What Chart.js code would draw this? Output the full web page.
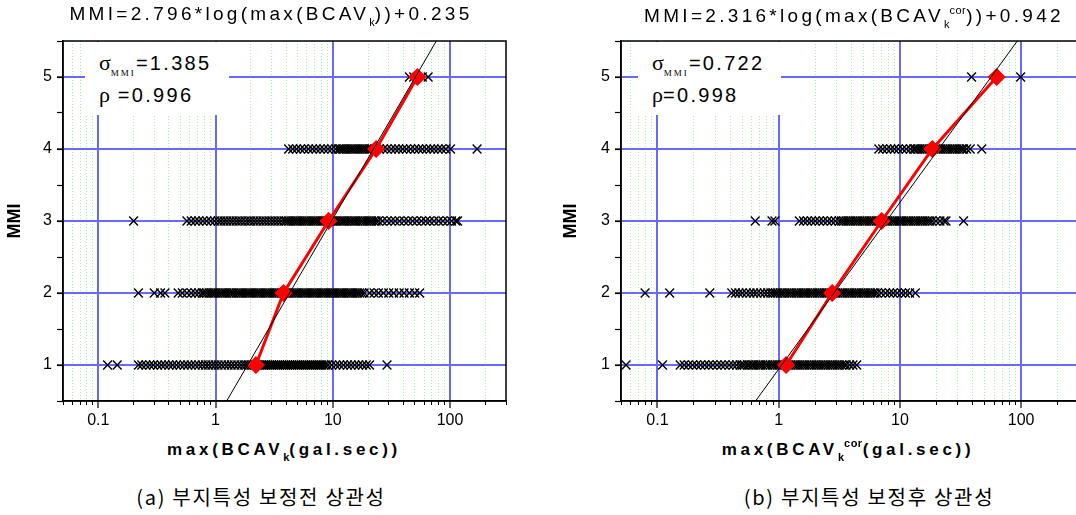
<!DOCTYPE html>
<html>
<head>
<meta charset="utf-8">
<script src="https://cdn.jsdelivr.net/npm/chart.js@4"></script>
<style>
  html, body { margin: 0; padding: 0; background: #fff; overflow: hidden; }
  #wrap { position: relative; width: 1076px; height: 515px; overflow: hidden; background: #fff;
          font-family: "Liberation Sans", Arial, sans-serif; color: #000; }
  canvas { position: absolute; top: 0; }
  .lbl { position: absolute; width: 600px; text-align: center; white-space: nowrap; }
  .title { font-size: 19px; letter-spacing: 3.3px; }
  .xtitle { font-size: 17px; font-weight: bold; letter-spacing: 3.7px; }
  .cap { font-family: "Noto Sans CJK KR", sans-serif; font-size: 20px; letter-spacing: 1.7px; }
  .sb { font-size: 11px; position: relative; top: 6px; letter-spacing: 0; }
  .sp { font-size: 11px; position: relative; top: -8px; letter-spacing: 0.5px; }
  .stat { position: absolute; background: #fff; height: 73px; top: 42px; }
  .stat div { position: absolute; left: 14px; font-size: 20px; letter-spacing: 2.3px; white-space: nowrap; }
  .gr { font-family: "Liberation Serif", serif; font-size: 22px; letter-spacing: 0; }
  .mmi { font-family: "Liberation Serif", serif; font-size: 9px; letter-spacing: 2px; position: relative; top: 6px; }
</style>
</head>
<body>
<div id="wrap">
  <canvas id="pre" width="520" height="440" style="left:0px"></canvas>
  <canvas id="cor" width="537" height="440" style="left:556px"></canvas>

  <div class="lbl title" style="left:-29px;top:3px">MMI=2.796*log(max(BCAV<span class="sb">k</span>))+0.235</div>
  <div class="lbl title" style="left:554px;top:5px">MMI=2.316*log(max(BCAV<span class="sb">k</span><span class="sp">cor</span>))+0.942</div>

  <div class="stat" style="left:85px;width:144px">
    <div style="top:8px"><span class="gr">σ</span><span class="mmi">MMI</span>=1.385</div>
    <div style="top:40px"><span class="gr">ρ</span> =0.996</div>
  </div>
  <div class="stat" style="left:638px;width:143px">
    <div style="top:8px"><span class="gr">σ</span><span class="mmi">MMI</span>=0.722</div>
    <div style="top:40px"><span class="gr">ρ</span>=0.998</div>
  </div>

  <div class="lbl xtitle" style="left:-16px;top:440px">max(BCAV<span class="sb">k</span>(gal.sec))</div>
  <div class="lbl xtitle" style="left:548px;top:440px">max(BCAV<span class="sb">k</span><span class="sp">cor</span>(gal.sec))</div>

  <div class="lbl cap" style="left:-39px;top:482px">(a) 부지특성 보정전 상관성</div>
  <div class="lbl cap" style="left:569px;top:482px">(b) 부지특성 보정후 상관성</div>
</div>

<script>
// MMI levels (y of each row, also the labelled y ticks)
const mmiLevels = [1, 2, 3, 4, 5];

// axis ranges and labelled decades
const xMin = 0.05;
const xMax = 300;
const decadeTicks = [0.1, 1, 10, 100];
const yMin = 0.5;
const yMax = 5.5;

// (a) before site correction: max(BCAV_k) per MMI level
const preMMI1 = [0.12, 0.145,
  0.22, 0.235, 0.255, 0.275, 0.295, 0.32, 0.345, 0.37, 0.4, 0.43, 0.465, 0.5, 0.54, 0.58, 0.62, 0.67, 0.72,
  0.77, 0.82, 0.87, 0.93, 0.99, 1.05, 1.12, 1.2, 1.28, 1.36, 1.45, 1.55, 1.65, 1.75,
  1.84, 1.92, 2.0, 2.08, 2.17, 2.26, 2.35, 2.45, 2.55, 2.65, 2.76, 2.87, 2.99, 3.11, 3.24, 3.37, 3.5,
  3.65, 3.8, 3.95, 4.1, 4.28, 4.45, 4.63, 4.82, 5.0, 5.2, 5.42, 5.64, 5.87, 6.1, 6.35, 6.6, 6.87,
  7.15, 7.45, 7.75, 8.05, 8.4, 8.75, 9.1,
  9.8, 10.6, 11.4, 12.3, 13.3, 14.3, 15.4, 16.6, 17.9, 19.3, 20.6, 29];
const preMMI2 = [0.22, 0.3, 0.34, 0.37, 0.48, 0.52, 0.57, 0.62, 0.67, 0.72,
  0.77, 0.8, 0.84, 0.88, 0.92, 0.96, 1.0, 1.05, 1.1, 1.15, 1.2, 1.25, 1.31, 1.37, 1.43, 1.5, 1.57,
  1.64, 1.71, 1.79, 1.87, 1.95, 2.04, 2.13, 2.23, 2.33, 2.43, 2.54, 2.66, 2.78, 2.9, 3.03, 3.17,
  3.31, 3.46, 3.62, 3.78, 3.95, 4.13, 4.31, 4.5, 4.71, 4.92, 5.14, 5.37, 5.61, 5.86, 6.13, 6.4,
  6.69, 6.99, 7.3, 7.63, 7.98, 8.33, 8.71, 9.1, 9.51, 9.94, 10.4, 10.9, 11.4, 11.9, 12.4, 13.0,
  13.6, 14.2, 14.8, 15.5, 16.2, 16.9, 17.7, 18.5,
  20.6, 22.5, 24.5, 27, 30, 33, 36.8, 40.5, 45, 50, 55];
const preMMI3 = [0.2,
  0.57, 0.62, 0.67, 0.72, 0.78, 0.84, 0.91, 0.98, 1.05,
  1.11, 1.18, 1.25, 1.33, 1.41, 1.5, 1.59, 1.68, 1.79, 1.9, 2.0, 2.13, 2.26, 2.4, 2.55, 2.7, 2.87,
  3.04, 3.22, 3.42, 3.63, 3.85,
  4.02, 4.2, 4.39, 4.59, 4.8, 5.01, 5.24, 5.47, 5.72, 5.98, 6.25, 6.53, 6.82, 7.13, 7.45, 7.78,
  8.13, 8.5, 8.88, 9.28, 9.7, 10.1, 10.6, 11.1, 11.6, 12.1, 12.6, 13.2, 13.8, 14.4, 15.1, 15.7,
  16.4, 17.2, 18.0, 18.8, 19.6, 20.5, 21.4, 22.4, 23.4, 24.5,
  26.5, 29, 31.5, 34, 37, 40.5, 44, 48, 52, 57, 62, 67, 73, 80, 87, 95, 103, 112, 116];
const preMMI4 = [4.2, 4.55, 4.9, 5.3, 5.7, 6.2, 6.7, 7.2, 7.8, 8.4, 9.1, 9.8, 10.6, 11.2,
  11.6, 12.1, 12.6, 13.2, 13.8, 14.4, 15.0, 15.7, 16.4, 17.1, 17.9, 18.7, 19.5, 20.4, 21.4,
  23, 25, 27, 29, 31.5, 34, 36.5, 39.5, 42.5, 46, 50, 54, 58, 63, 68, 73, 79, 85, 92, 101, 170];
const preMMI5 = [45, 49, 58, 65];
const preMeanX = [2.21, 3.8, 9.2, 23.4, 52.6];
const preFitX = [1.244, 76.4];

// (b) after site correction: max(BCAV_k^cor) per MMI level
const corMMI1 = [0.055, 0.11,
  0.154, 0.166, 0.18, 0.195, 0.21, 0.227, 0.245, 0.265, 0.286, 0.31, 0.335, 0.36, 0.39, 0.42, 0.45,
  0.48, 0.5, 0.52, 0.55, 0.57, 0.6, 0.62, 0.65, 0.68, 0.71, 0.74, 0.78, 0.81, 0.85, 0.89, 0.93,
  0.97, 1.01, 1.06, 1.1, 1.15, 1.21, 1.26, 1.32, 1.38, 1.44, 1.5, 1.57, 1.64, 1.71, 1.79, 1.87,
  1.96, 2.04, 2.14, 2.23, 2.33, 2.44, 2.55, 2.66, 2.78, 2.91, 3.04, 3.17, 3.32, 3.47, 3.6,
  3.85, 4.1, 4.4];
const corMMI2 = [0.079, 0.126, 0.27,
  0.41, 0.44, 0.47, 0.5, 0.54, 0.58, 0.62, 0.66, 0.71, 0.76, 0.81, 0.86,
  0.9, 0.94, 0.98, 1.03, 1.07, 1.12, 1.17, 1.22, 1.28, 1.34, 1.4, 1.46, 1.53, 1.6, 1.67, 1.74,
  1.82, 1.9, 1.99, 2.08, 2.17, 2.27, 2.37, 2.48, 2.59, 2.7, 2.82, 2.95, 3.08, 3.22, 3.37, 3.52,
  3.68, 3.84, 4.01, 4.19, 4.38, 4.58, 4.79, 5.0, 5.23, 5.46, 5.71, 5.96, 6.23, 6.5,
  7.0, 7.6, 8.2, 8.8, 9.5, 10.3, 11.1, 12, 13.4];
const corMMI3 = [0.64, 0.88, 0.93,
  1.48, 1.6, 1.72, 1.86, 2.0, 2.16, 2.33, 2.52, 2.72, 2.93,
  3.15, 3.29, 3.44, 3.59, 3.75, 3.92, 4.1, 4.28, 4.48, 4.68, 4.89, 5.11, 5.34, 5.58, 5.83, 6.09,
  6.37, 6.65, 6.95, 7.27, 7.59, 7.94, 8.29, 8.67, 9.06, 9.46, 9.89, 10.3, 10.8, 11.3, 11.8, 12.3,
  12.9, 13.5, 14.1, 14.7, 15.4, 16.1, 16.8, 17.6, 18.4,
  19.8, 21.4, 23.1, 24, 33.5];
const corMMI4 = [6.7, 7.2, 7.8, 8.4, 9.0, 9.7, 10.5, 11.3, 12.2, 13.0,
  13.4, 14.0, 14.6, 15.3, 16.0, 16.7, 17.4, 18.2, 19.0, 19.9, 20.8, 21.7, 22.7, 23.7, 24.8, 25.9,
  27.1, 28.3, 29.6, 30.9, 32.3, 33.5,
  35.5, 38, 47.3];
const corMMI5 = [39, 99];
const corMeanX = [1.15, 2.76, 7.07, 18.5, 62.8];
const corFitX = [0.644, 92.9];

// fit lines run across the full y range
const fitY = [0.5, 5.5];

const BLUE = "rgb(105,105,255)";
const GREEN = "rgb(165,238,165)";

Chart.defaults.font.family = "'Liberation Sans', Arial, sans-serif";
Chart.defaults.color = "#000";

function isMinor(v) {
    const s = v / Math.pow(10, Math.floor(Math.log10(v) + 1e-9));
    const r = Math.round(s);
    return Math.abs(s - r) < 1e-6 && r >= 2 && r <= 9;
}

const framePlugin = {
    id: "frame",
    afterDraw(chart) {
        const { ctx, chartArea: a } = chart;
        ctx.save();
        ctx.strokeStyle = "#000";
        ctx.lineWidth = 1.5;
        ctx.strokeRect(a.left, a.top, a.right - a.left, a.bottom - a.top);
        ctx.restore();
    }
};

function rowData(xs, level) {
    return xs.map(x => ({ x: x, y: level }));
}

function makeChart(id, rows, meanX, fitX, yWidth) {
    const scatterSets = rows.map((xs, i) => ({
        data: rowData(xs, mmiLevels[i]),
        showLine: false,
        pointStyle: "crossRot",
        pointRadius: 6.2,
        borderColor: "#000",
        backgroundColor: "#000",
        borderWidth: 1.4,
        order: 3
    }));

    return new Chart(document.getElementById(id), {
        type: "scatter",
        data: {
            datasets: [
                {
                    data: fitX.map((x, i) => ({ x: x, y: fitY[i] })),
                    showLine: true,
                    borderColor: "#000",
                    borderWidth: 1,
                    pointRadius: 0,
                    order: 0
                },
                {
                    data: meanX.map((x, i) => ({ x: x, y: mmiLevels[i] })),
                    showLine: true,
                    borderColor: "#ff0000",
                    borderWidth: 3,
                    pointStyle: "rectRot",
                    pointRadius: 7,
                    pointBackgroundColor: "#ff0000",
                    pointBorderColor: "#ff0000",
                    order: 1
                },
                ...scatterSets
            ]
        },
        options: {
            responsive: false,
            animation: false,
            devicePixelRatio: 1,
            events: [],
            layout: { padding: { top: 41, right: 14, left: 0, bottom: 0 } },
            plugins: { legend: { display: false }, tooltip: { enabled: false } },
            scales: {
                // minor decade lines (green dotted) and short minor ticks
                x2: {
                    type: "logarithmic",
                    position: "bottom",
                    weight: 0,
                    min: xMin,
                    max: xMax,
                    afterBuildTicks: s => { s.ticks = s.ticks.filter(t => isMinor(t.value)); },
                    ticks: { display: false, autoSkip: false },
                    grid: { color: GREEN, lineWidth: 1, tickLength: 4, tickColor: "#000", tickWidth: 1 },
                    border: { display: false, dash: [1, 2] },
                    afterFit: s => { s.height = 0; }
                },
                x: {
                    type: "logarithmic",
                    position: "bottom",
                    weight: 1,
                    min: xMin,
                    max: xMax,
                    afterBuildTicks: s => { s.ticks = s.ticks.filter(t => decadeTicks.some(d => Math.abs(d - t.value) < 1e-9)); },
                    ticks: {
                        autoSkip: false, maxRotation: 0, padding: 3,
                        font: { size: 16 },
                        callback: v => String(v)
                    },
                    grid: { color: BLUE, lineWidth: 2, tickLength: 7, tickColor: "#000", tickWidth: 1.2 },
                    border: { color: "#000", width: 1.5 },
                    afterFit: s => { s.height = 39; }
                },
                // half-step tick marks on the MMI axis
                y2: {
                    position: "left",
                    weight: 0,
                    min: yMin,
                    max: yMax,
                    ticks: { display: false, stepSize: 0.5 },
                    grid: { drawOnChartArea: false, tickLength: 6, tickColor: "#000", tickWidth: 1.2 },
                    border: { display: false },
                    afterFit: s => { s.width = 0; }
                },
                y: {
                    position: "left",
                    weight: 1,
                    min: yMin,
                    max: yMax,
                    afterBuildTicks: s => { s.ticks = mmiLevels.map(v => ({ value: v })); },
                    ticks: { padding: 5, font: { size: 16 } },
                    grid: { color: BLUE, lineWidth: 2, tickLength: 6, tickColor: "#000", tickWidth: 1.2 },
                    border: { color: "#000", width: 1.5 },
                    title: {
                        display: true, text: "MMI",
                        font: { size: 18, weight: "bold" },
                        padding: { top: 4, bottom: 0 }
                    },
                    afterFit: s => { s.width = yWidth; }
                }
            }
        },
        plugins: [framePlugin]
    });
}

makeChart("pre", [preMMI1, preMMI2, preMMI3, preMMI4, preMMI5], preMeanX, preFitX, 63);
makeChart("cor", [corMMI1, corMMI2, corMMI3, corMMI4, corMMI5], corMeanX, corFitX, 65);
</script>
</body>
</html>
